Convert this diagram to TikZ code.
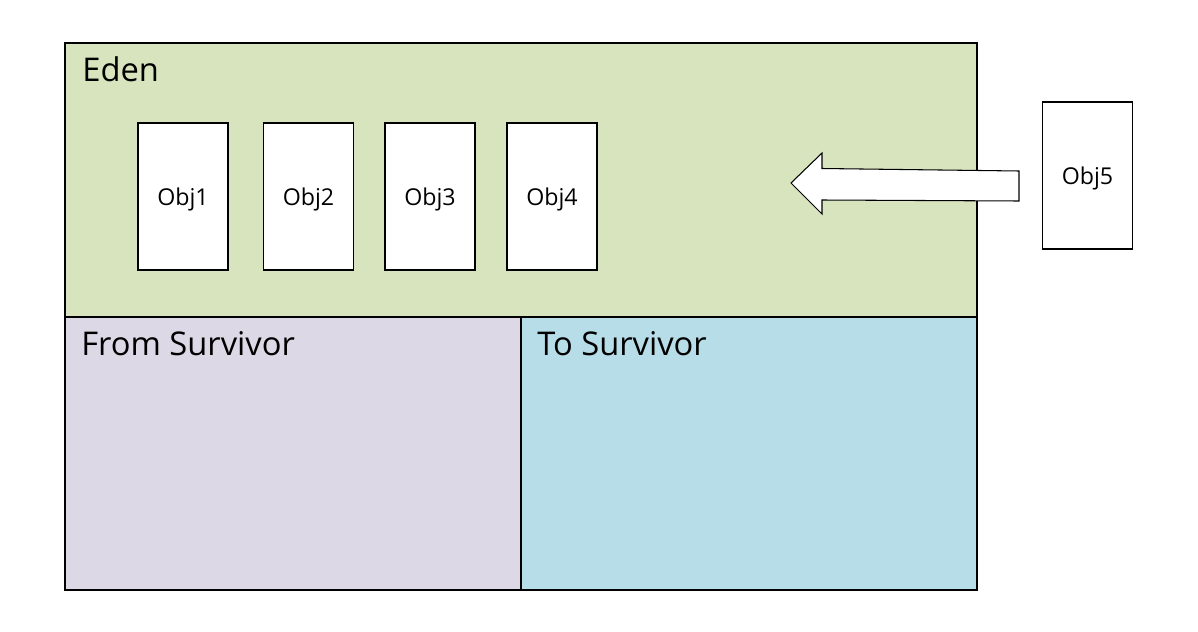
\documentclass[tikz,border=0pt]{standalone}
\usepackage{fontspec}
\setmainfont{Open Sans}
\definecolor{edenc}{HTML}{D7E4BD}
\definecolor{fromc}{HTML}{DDD8E5}
\definecolor{toc}{HTML}{B7DDE8}
\tikzset{
  region/.style={draw=black, line width=1.1pt, inner sep=0pt, outer sep=0pt, anchor=north west},
  objbox/.style={draw=black, fill=white, line width=0.6pt, inner sep=0pt, text depth=0pt, minimum width=1.8cm, minimum height=2.94cm, font=\fontsize{13.2}{15}\selectfont},
  title/.style={anchor=base west, inner sep=0pt, font=\fontsize{18.6}{22}\selectfont},
  blockarrow/.style={draw=black, fill=white, line width=0.6pt, line join=miter}
}
\begin{document}
\begin{tikzpicture}[x=0.02cm, y=-0.02cm]
\useasboundingbox (0,0) rectangle (1198,632);
\fill[white] (0,0) rectangle (1198,632);
% regions
\node[region, fill=edenc, minimum width=18.24cm, minimum height=5.48cm] (eden) at (65,43) {};
\node[region, fill=fromc, minimum width=9.12cm, minimum height=5.46cm] (from) at (65,317) {};
\node[region, fill=toc, minimum width=9.12cm, minimum height=5.46cm] (to) at (521,317) {};
\node[title] (edenlbl) at (82,81) {Eden};
\node[title] (fromlbl) at (81,355) {From Survivor};
\node[title] (tolbl) at (537,355) {To Survivor};
% objects
\node[objbox] (o1) at (183,196.5) {Obj1};
\node[objbox] (o2) at (308.5,196.5) {Obj2};
\node[objbox] (o3) at (430,196.5) {Obj3};
\node[objbox] (o4) at (552,196.5) {Obj4};
\node[objbox] (o5) at (1087.5,175.5) {Obj5};
% block arrow
\draw[blockarrow] (791,183) -- (822,153) -- (822,168.5) -- (1019,171) -- (1019,201)
  -- (822,200) -- (822,214) -- cycle;
\end{tikzpicture}
\end{document}
